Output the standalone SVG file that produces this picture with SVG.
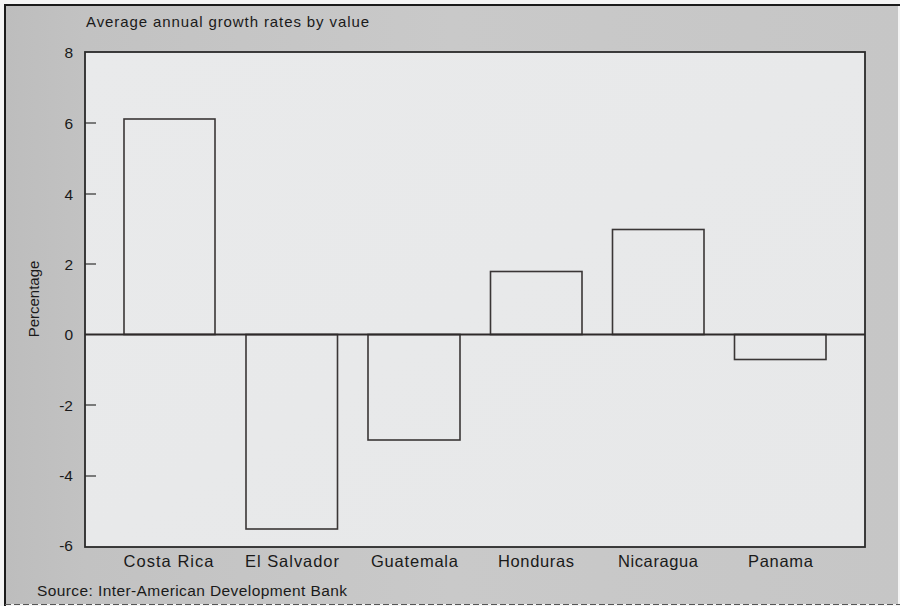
<svg xmlns="http://www.w3.org/2000/svg" width="900" height="606" viewBox="0 0 900 606">
  <style>
    text { font-family: "Liberation Sans", Arial, sans-serif; fill: #1a1a1a; }
    .tick-label { font-size: 15.5px; text-anchor: end; }
    .cat { font-size: 16.5px; text-anchor: middle; }
    .bar { fill: none; stroke: #3a3636; stroke-width: 1.6; }
    .tick { stroke: #555; stroke-width: 1.5; }
    .axis { fill: none; stroke: #2a2a2a; stroke-width: 1.8; }
  </style>
  <defs>
    <linearGradient id="frameGrad" x1="0" y1="0" x2="1" y2="0">
      <stop offset="0" stop-color="#bdbdbd"/>
      <stop offset="0.09" stop-color="#c2c2c2"/>
      <stop offset="0.5" stop-color="#c9c9c9"/>
      <stop offset="1" stop-color="#c6c6c6"/>
    </linearGradient>
    <linearGradient id="plotGrad" x1="0" y1="0" x2="1" y2="1">
      <stop offset="0" stop-color="#e9eaeb"/>
      <stop offset="1" stop-color="#e7e8e9"/>
    </linearGradient>
  </defs>

  <!-- page -->
  <rect x="0" y="0" width="900" height="606" fill="#f4f4f4"/>
  <!-- gray frame -->
  <rect id="frame" x="5" y="5" width="893" height="599" fill="url(#frameGrad)"/>
  <line x1="4" y1="5" x2="900" y2="5" stroke="#1a1a1a" stroke-width="2"/>
  <line x1="5" y1="4" x2="5" y2="606" stroke="#1a1a1a" stroke-width="2"/>
  <line x1="5" y1="604.5" x2="900" y2="604.5" stroke="#555" stroke-width="1" stroke-dasharray="6 3"/>

  <!-- title -->
  <text id="title" x="86" y="27" font-size="15" textLength="283" lengthAdjust="spacing">Average annual growth rates by value</text>

  <!-- plot area -->
  <rect id="plot" x="85" y="52" width="780" height="495" fill="url(#plotGrad)"/>

  <!-- y axis -->
  <g id="y-axis">
    <line class="tick" x1="85" y1="123" x2="96" y2="123"/>
    <line class="tick" x1="85" y1="194" x2="96" y2="194"/>
    <line class="tick" x1="85" y1="264" x2="96" y2="264"/>
    <line class="tick" x1="85" y1="405" x2="96" y2="405"/>
    <line class="tick" x1="85" y1="476" x2="96" y2="476"/>
    <text class="tick-label" x="73" y="58">8</text>
    <text class="tick-label" x="73" y="129">6</text>
    <text class="tick-label" x="73" y="200">4</text>
    <text class="tick-label" x="73" y="270">2</text>
    <text class="tick-label" x="73" y="340">0</text>
    <text class="tick-label" x="73" y="411">-2</text>
    <text class="tick-label" x="73" y="481">-4</text>
    <text class="tick-label" x="73" y="551">-6</text>
    <text id="y-title" x="0" y="0" font-size="15" text-anchor="middle" transform="translate(39,299) rotate(-90)">Percentage</text>
  </g>

  <!-- bars -->
  <g id="bar-costa-rica"><rect class="bar" x="124" y="119" width="91" height="215.5"/></g>
  <g id="bar-el-salvador"><rect class="bar" x="246" y="334.5" width="91.5" height="194.5"/></g>
  <g id="bar-guatemala"><rect class="bar" x="368" y="334.5" width="92" height="105.5"/></g>
  <g id="bar-honduras"><rect class="bar" x="490.5" y="271.5" width="91.5" height="63"/></g>
  <g id="bar-nicaragua"><rect class="bar" x="612.5" y="229.5" width="91.5" height="105"/></g>
  <g id="bar-panama"><rect class="bar" x="734.5" y="334.5" width="91.5" height="25"/></g>

  <!-- zero line and plot frame -->
  <line x1="85" y1="334.5" x2="865" y2="334.5" stroke="#2e2a2a" stroke-width="1.8"/>
  <rect class="axis" x="85" y="52" width="780" height="495"/>

  <!-- category labels -->
  <g id="categories">
    <text class="cat" x="168.5" y="567" textLength="90" lengthAdjust="spacing">Costa Rica</text>
    <text class="cat" x="292" y="567" textLength="94" lengthAdjust="spacing">El Salvador</text>
    <text class="cat" x="414.5" y="567" textLength="87" lengthAdjust="spacing">Guatemala</text>
    <text class="cat" x="536" y="567" textLength="76" lengthAdjust="spacing">Honduras</text>
    <text class="cat" x="658" y="567" textLength="80" lengthAdjust="spacing">Nicaragua</text>
    <text class="cat" x="780.5" y="567" textLength="65" lengthAdjust="spacing">Panama</text>
  </g>

  <!-- source -->
  <text id="source" x="37" y="596" font-size="15.5" textLength="310" lengthAdjust="spacing">Source: Inter-American Development Bank</text>
</svg>
